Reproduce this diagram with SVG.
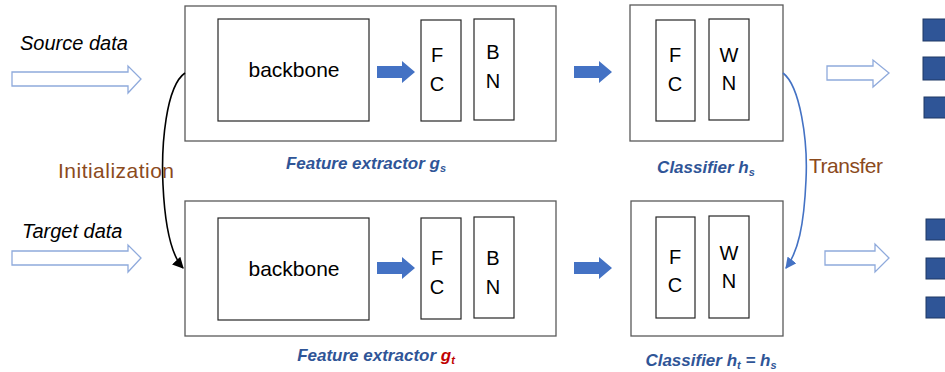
<svg xmlns="http://www.w3.org/2000/svg" width="945" height="372" viewBox="0 0 945 372">
  <style>
    .outer { fill: #ffffff; stroke: #595959; stroke-width: 1.3; }
    .inner { fill: #ffffff; stroke: #262626; stroke-width: 1.2; }
    .t { font-family: "Liberation Sans", Arial, sans-serif; fill: #000000; }
    .box-t { font-size: 20px; text-anchor: middle; }
    .io { font-size: 20px; font-style: italic; }
    .cap { font-size: 17px; font-weight: bold; font-style: italic; fill: #2F5597; text-anchor: middle; }
    .note { font-size: 21px; fill: #8B4A1C; }
    .flow { fill: #4472C4; }
    .hollow { fill: #ffffff; stroke: #8FAADC; stroke-width: 1.3; }
    .out { fill: #2F5597; stroke: #1F3864; stroke-width: 1; }
    .sub { font-size: 11px; }
    .red { fill: #C00000; }
  </style>
  <defs>
    <marker id="arrBlack" viewBox="0 0 10 10" refX="9" refY="5" markerWidth="7" markerHeight="7" orient="auto">
      <path d="M0,0 L10,5 L0,10 Z" fill="#000000"/>
    </marker>
    <marker id="arrBlue" viewBox="0 0 10 10" refX="9" refY="5" markerWidth="7" markerHeight="7" orient="auto">
      <path d="M0,0 L10,5 L0,10 Z" fill="#4472C4"/>
    </marker>
    <polygon id="blockArrow" points="0,-6 25,-6 25,-11 38,0 25,11 25,6 0,6"/>
  </defs>

  <!-- input labels and hollow input arrows -->
  <g id="source-input">
    <text class="t io" x="20" y="50">Source data</text>
    <polygon class="hollow" points="12,72 128,72 128,66 141,79 128,93 128,86 12,86"/>
  </g>
  <g id="target-input">
    <text class="t io" x="22" y="238">Target data</text>
    <polygon class="hollow" points="12,251 128,251 128,245 141,258 128,272 128,265 12,265"/>
  </g>

  <!-- source feature extractor -->
  <g id="feature-extractor-s">
    <rect class="outer" x="185" y="6" width="371" height="135"/>
    <rect class="inner" x="218" y="19" width="151" height="102"/>
    <text class="t box-t" x="294" y="77" style="font-size:21px">backbone</text>
    <use href="#blockArrow" class="flow" x="377" y="72"/>
    <rect class="inner" x="421" y="20" width="40" height="101"/>
    <text class="t box-t" x="437" y="62">F</text>
    <text class="t box-t" x="437" y="91">C</text>
    <rect class="inner" x="474" y="19" width="40" height="101"/>
    <text class="t box-t" x="493" y="59">B</text>
    <text class="t box-t" x="493" y="88">N</text>
    <text class="t cap" x="366" y="169">Feature extractor g<tspan class="sub" dy="3">s</tspan></text>
  </g>

  <!-- source classifier -->
  <g id="classifier-s">
    <rect class="outer" x="630" y="5" width="153" height="136"/>
    <rect class="inner" x="656" y="20" width="39" height="101"/>
    <text class="t box-t" x="675" y="62">F</text>
    <text class="t box-t" x="675" y="91">C</text>
    <rect class="inner" x="709" y="19" width="40" height="101"/>
    <text class="t box-t" x="729" y="62">W</text>
    <text class="t box-t" x="729" y="90">N</text>
    <text class="t cap" x="706" y="173">Classifier h<tspan class="sub" dy="3">s</tspan></text>
  </g>

  <!-- target feature extractor -->
  <g id="feature-extractor-t">
    <rect class="outer" x="185" y="201" width="371" height="135"/>
    <rect class="inner" x="218" y="218" width="151" height="102"/>
    <text class="t box-t" x="294" y="276" style="font-size:21px">backbone</text>
    <use href="#blockArrow" class="flow" x="377" y="268"/>
    <rect class="inner" x="421" y="218" width="40" height="101"/>
    <text class="t box-t" x="437" y="265">F</text>
    <text class="t box-t" x="437" y="294">C</text>
    <rect class="inner" x="474" y="217" width="40" height="101"/>
    <text class="t box-t" x="493" y="265">B</text>
    <text class="t box-t" x="493" y="294">N</text>
    <text class="t cap" x="376" y="361">Feature extractor <tspan class="red">g</tspan><tspan class="sub red" dy="3">t</tspan></text>
  </g>

  <!-- target classifier -->
  <g id="classifier-t">
    <rect class="outer" x="631" y="201" width="152" height="135"/>
    <rect class="inner" x="656" y="217" width="39" height="101"/>
    <text class="t box-t" x="675" y="264">F</text>
    <text class="t box-t" x="675" y="292">C</text>
    <rect class="inner" x="709" y="216" width="40" height="102"/>
    <text class="t box-t" x="729" y="260">W</text>
    <text class="t box-t" x="729" y="288">N</text>
    <text class="t cap" x="711" y="366">Classifier h<tspan class="sub" dy="3">t</tspan><tspan dy="-3"> = h</tspan><tspan class="sub" dy="3">s</tspan></text>
  </g>

  <!-- outputs -->
  <g id="output-s">
    <polygon class="hollow" points="827,66 873,66 873,60 889,73 873,87 873,80 827,80"/>
    <rect class="out" x="923" y="19" width="30" height="22"/>
    <rect class="out" x="923" y="57" width="30" height="23"/>
    <rect class="out" x="924" y="97" width="30" height="21"/>
  </g>
  <g id="output-t">
    <polygon class="hollow" points="825,251 875,251 875,244 889,258 875,272 875,265 825,265"/>
    <rect class="out" x="926" y="219" width="30" height="21"/>
    <rect class="out" x="926" y="258" width="30" height="21"/>
    <rect class="out" x="926" y="297" width="30" height="21"/>
  </g>

  <!-- connectors between stages -->
  <g id="connectors">
    <use href="#blockArrow" class="flow" x="574" y="72"/>
    <use href="#blockArrow" class="flow" x="574" y="268"/>
    <path d="M185,73 C166,86 161,145 163,185 C165,228 171,255 183,268" fill="none" stroke="#000000" stroke-width="1.6" marker-end="url(#arrBlack)"/>
    <path d="M783,73 C800,86 808,140 806,180 C804,226 798,252 786,268" fill="none" stroke="#4472C4" stroke-width="1.6" marker-end="url(#arrBlue)"/>
    <text class="t note" x="58" y="178" textLength="116" lengthAdjust="spacing">Initialization</text>
    <text class="t note" x="809" y="173" textLength="74" lengthAdjust="spacing">Transfer</text>
  </g>
</svg>
